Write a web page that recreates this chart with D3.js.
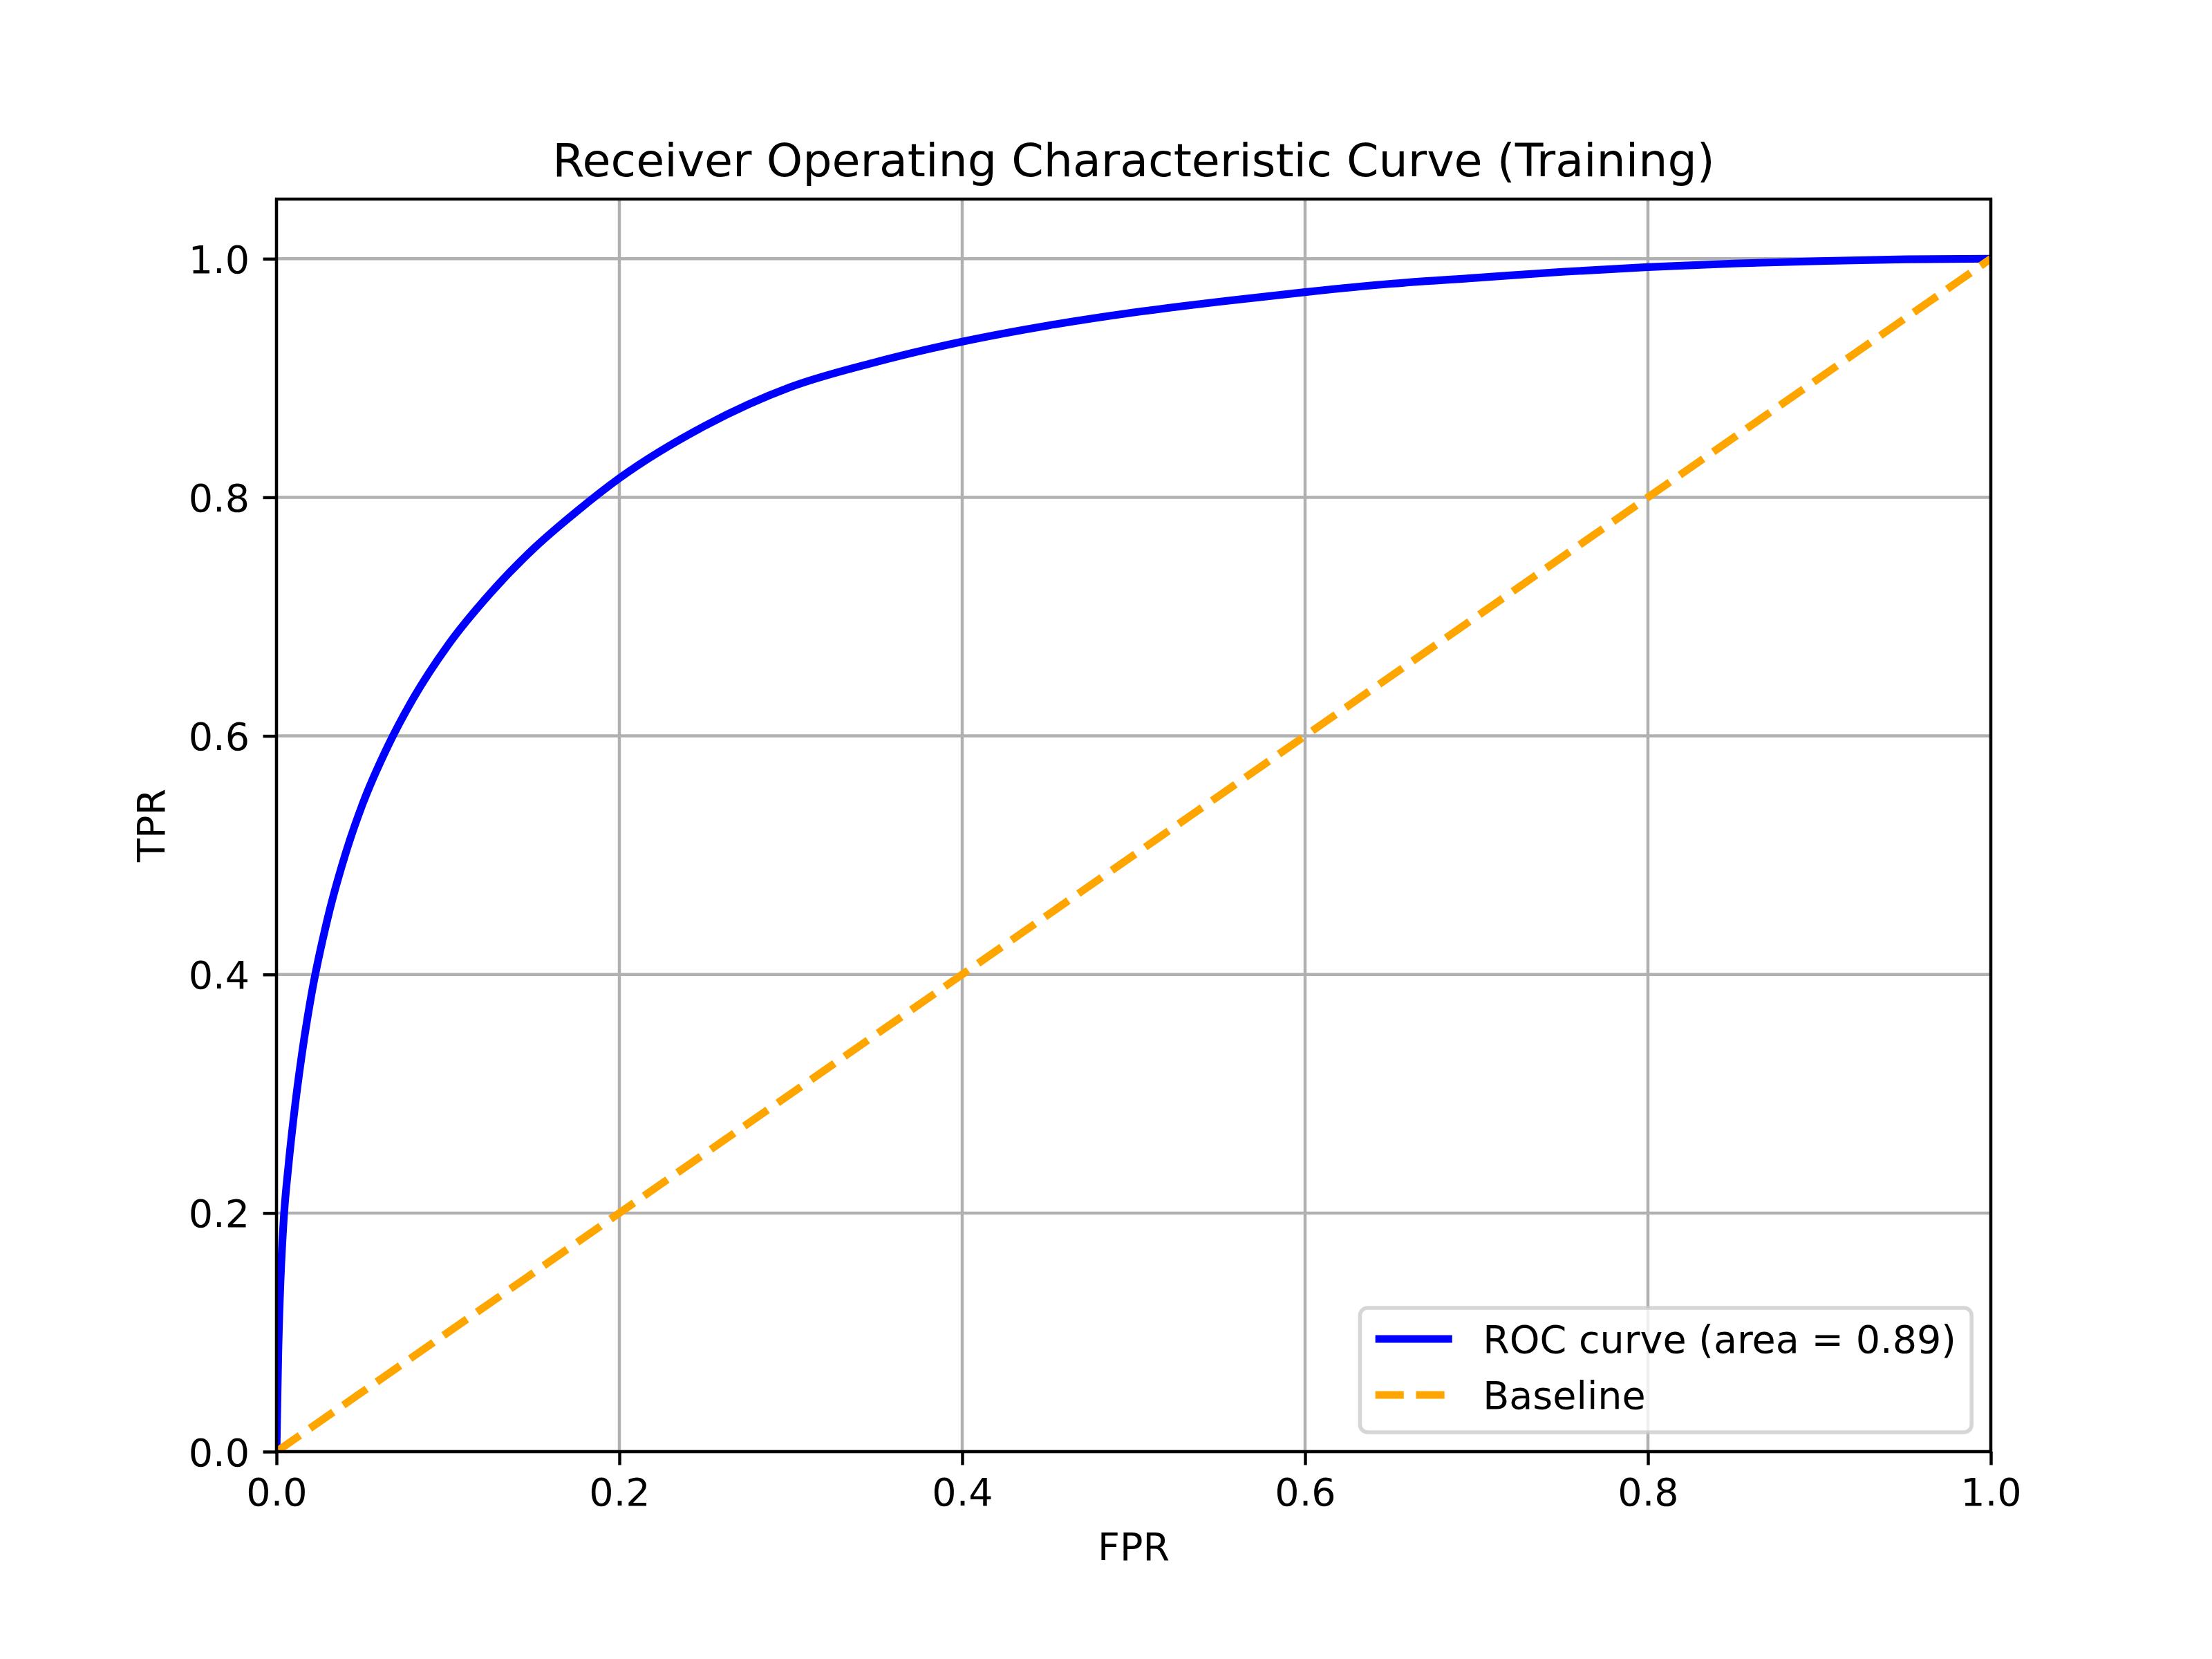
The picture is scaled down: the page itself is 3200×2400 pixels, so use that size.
<!DOCTYPE html>
<html>
<head>
<meta charset="utf-8">
<script src="https://cdn.jsdelivr.net/npm/d3@7"></script>
<style>
  html, body { margin: 0; padding: 0; background: #ffffff; }
  svg { display: block; }
  text { font-family: "DejaVu Sans", sans-serif; fill: #000; }
</style>
</head>
<body>
<svg id="chart" width="3200" height="2400"></svg>
<script>
// ---------- data ----------
const rocFpr = [0, 0.0005, 0.001, 0.002, 0.004, 0.007, 0.01, 0.015, 0.02, 0.03, 0.04, 0.05, 0.065, 0.08, 0.1, 0.125, 0.15, 0.175, 0.2, 0.25, 0.3, 0.35, 0.4, 0.45, 0.5, 0.55, 0.6, 0.65, 0.7, 0.75, 0.8, 0.85, 0.9, 0.95, 1.0];
const rocTpr = [0, 0.04, 0.08, 0.13, 0.19, 0.24, 0.28, 0.335, 0.38, 0.448, 0.50, 0.542, 0.5915, 0.632, 0.676, 0.72, 0.757, 0.788, 0.816, 0.860, 0.8925, 0.9135, 0.9305, 0.944, 0.955, 0.964, 0.972, 0.979, 0.984, 0.989, 0.993, 0.996, 0.998, 0.9995, 1.0];
const baseFpr = [0, 1];
const baseTpr = [0, 1];
const xTicks = [0, 0.2, 0.4, 0.6, 0.8, 1.0];
const yTicks = [0, 0.2, 0.4, 0.6, 0.8, 1.0];
const legendLabels = ["ROC curve (area = 0.89)", "Baseline"];
const titleText = "Receiver Operating Characteristic Curve (Training)";
const xLabel = "FPR";
const yLabel = "TPR";

// ---------- layout ----------
const PT = 400 / 72;             // px per point
const FS = 10 * PT;              // base font size
const pL = 400, pR = 2880, pT = 288, pB = 2100;
const svg = d3.select("#chart");
svg.append("rect").attr("width", 3200).attr("height", 2400).attr("fill", "#fff");

const x = d3.scaleLinear().domain([0, 1]).range([pL, pR]);
const y = d3.scaleLinear().domain([0, 1.05]).range([pB, pT]);

// clip
svg.append("defs").append("clipPath").attr("id", "plotclip")
  .append("rect").attr("x", pL).attr("y", pT).attr("width", pR - pL).attr("height", pB - pT);

// grid
const grid = svg.append("g");
grid.selectAll(".gx").data(xTicks).enter().append("line")
  .attr("x1", d => x(d)).attr("x2", d => x(d)).attr("y1", pT).attr("y2", pB)
  .attr("stroke", "#b0b0b0").attr("stroke-width", 0.8 * PT);
grid.selectAll(".gy").data(yTicks).enter().append("line")
  .attr("y1", d => y(d)).attr("y2", d => y(d)).attr("x1", pL).attr("x2", pR)
  .attr("stroke", "#b0b0b0").attr("stroke-width", 0.8 * PT);

// lines
const plot = svg.append("g").attr("clip-path", "url(#plotclip)");
const line = d3.line().x(d => x(d[0])).y(d => y(d[1])).curve(d3.curveMonotoneX);
const rocData = rocFpr.map((f, i) => [f, rocTpr[i]]);
const baseData = baseFpr.map((f, i) => [f, baseTpr[i]]);
plot.append("path").datum(rocData).attr("d", line)
  .attr("fill", "none").attr("stroke", "#0000ff").attr("stroke-width", 2 * PT)
  .attr("stroke-linejoin", "round").attr("stroke-linecap", "square");
plot.append("path").datum(baseData).attr("d", d3.line().x(d => x(d[0])).y(d => y(d[1])))
  .attr("fill", "none").attr("stroke", "#ffa500").attr("stroke-width", 2 * PT)
  .attr("stroke-dasharray", `${7.4 * PT},${3.2 * PT}`).attr("stroke-linecap", "butt");

// axes
const tickLen = 3.5 * PT, tickPad = 3.5 * PT;
const xAxis = d3.axisBottom(x).tickValues(xTicks).tickFormat(d3.format(".1f"))
  .tickSizeInner(tickLen).tickSizeOuter(0).tickPadding(tickPad);
const yAxis = d3.axisLeft(y).tickValues(yTicks).tickFormat(d3.format(".1f"))
  .tickSizeInner(tickLen).tickSizeOuter(0).tickPadding(tickPad);
const gx = svg.append("g").attr("transform", `translate(0,${pB})`).call(xAxis);
const gy = svg.append("g").attr("transform", `translate(${pL},0)`).call(yAxis);
[gx, gy].forEach(g => {
  g.select(".domain").remove();
  g.selectAll(".tick line").attr("stroke", "#000").attr("stroke-width", 0.8 * PT);
  g.selectAll(".tick text").attr("font-size", FS).attr("font-family", "DejaVu Sans").attr("fill", "#000");
});
gy.selectAll(".tick text").attr("dy", "0.36em");

// spines
svg.append("rect").attr("x", pL).attr("y", pT).attr("width", pR - pL).attr("height", pB - pT)
  .attr("fill", "none").attr("stroke", "#000").attr("stroke-width", 0.8 * PT).attr("stroke-linecap", "square");

// title & labels
svg.append("text").attr("x", (pL + pR) / 2).attr("y", pT - 6 * PT)
  .attr("text-anchor", "middle").attr("font-size", 12 * PT).text(titleText);
svg.append("text").attr("x", (pL + pR) / 2).attr("y", 2257)
  .attr("text-anchor", "middle").attr("font-size", FS).text(xLabel);
svg.append("text").attr("transform", `translate(238,${(pT + pB) / 2}) rotate(-90)`)
  .attr("text-anchor", "middle").attr("font-size", FS).text(yLabel);

// legend
const lg = svg.append("g");
const pad = 0.4 * FS, handleLen = 2.0 * FS, textPad = 0.8 * FS;
const rowY = [1937, 2018];
const boxTop = 1892, boxBottom = 2072, boxRight = pR - 0.5 * FS;
const frame = lg.append("rect");
const texts = legendLabels.map((t, i) => lg.append("text").attr("font-size", FS).attr("y", rowY[i] + 0.36 * FS).text(t));
const tw = d3.max(texts, t => t.node().getComputedTextLength());
const boxLeft = boxRight - (2 * pad + handleLen + textPad + tw);
frame.attr("x", boxLeft).attr("y", boxTop).attr("width", boxRight - boxLeft).attr("height", boxBottom - boxTop)
  .attr("rx", 0.2 * FS).attr("ry", 0.2 * FS)
  .attr("fill", "rgba(255,255,255,0.8)").attr("stroke", "rgba(204,204,204,0.8)").attr("stroke-width", 1.0 * PT);
texts.forEach(t => t.attr("x", boxLeft + pad + handleLen + textPad));
const hx0 = boxLeft + pad, hx1 = hx0 + handleLen;
lg.append("line").attr("x1", hx0).attr("x2", hx1).attr("y1", rowY[0]).attr("y2", rowY[0])
  .attr("stroke", "#0000ff").attr("stroke-width", 2 * PT);
lg.append("line").attr("x1", hx0).attr("x2", hx1).attr("y1", rowY[1]).attr("y2", rowY[1])
  .attr("stroke", "#ffa500").attr("stroke-width", 2 * PT)
  .attr("stroke-dasharray", `${7.4 * PT},${3.2 * PT}`);
</script>
</body>
</html>
